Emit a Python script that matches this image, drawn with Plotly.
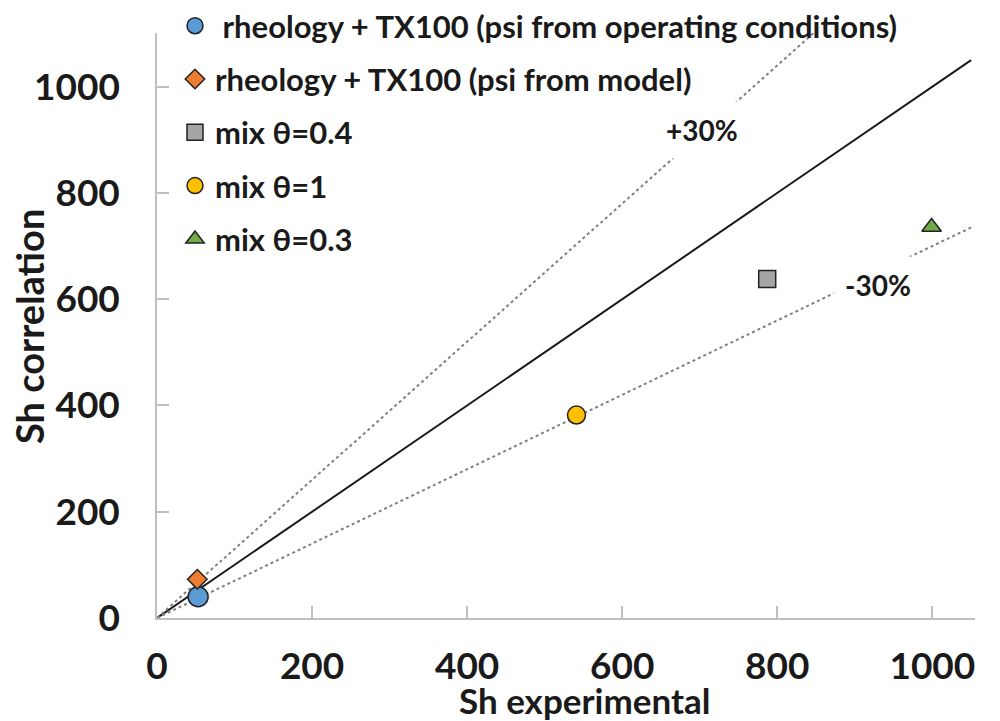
import plotly.graph_objects as go

# ---- data ----
series_names = [
    "\u00a0rheology + TX100 (psi from operating conditions)",
    "rheology + TX100 (psi from model)",
    "mix θ=0.4",
    "mix θ=1",
    "mix θ=0.3",
]
sh_exp = [53, 52, 787, 541, 999]
sh_corr = [40, 73, 638, 382, 736]
symbols = ["circle", "diamond", "square", "circle", "triangle-up"]
colors = ["#5B9BD5", "#ED7D31", "#A5A5A5", "#FFC000", "#70AD47"]
sizes = [20, 15, 17, 18, 17]

ref_x = [0, 1050]
band_ratio = {"+30%": 1.3, "-30%": 0.7}
label_pos = {"+30%": (703, 919), "-30%": (930, 627)}
x_ticks = [0, 200, 400, 600, 800, 1000]
y_ticks = [0, 200, 400, 600, 800, 1000]

FONT = "Lato"
TXT = "#1a1a1a"
PL, PR, PT, PB, W, H = 157, 25, 33, 103, 1000, 721
pw, ph = W - PL - PR, H - PT - PB

fig = go.Figure()

# 1:1 line
fig.add_trace(go.Scatter(x=ref_x, y=ref_x, mode="lines",
                         line=dict(color="#1a1a1a", width=2), showlegend=False,
                         hoverinfo="skip"))
# +/-30% lines
for name, r in band_ratio.items():
    fig.add_trace(go.Scatter(x=ref_x, y=[v * r for v in ref_x], mode="lines",
                             line=dict(color="#808080", width=2, dash="dot"),
                             showlegend=False, hoverinfo="skip"))

for i, nm in enumerate(series_names):
    fig.add_trace(go.Scatter(
        x=[sh_exp[i]], y=[sh_corr[i]], mode="markers", name=nm,
        legendgroup=f"g{i}",
        marker=dict(symbol=symbols[i], color=colors[i], size=sizes[i],
                    line=dict(color="#222222", width=1.5)),
        cliponaxis=False,
    ))

for txt, (lx, ly) in label_pos.items():
    fig.add_annotation(x=lx, y=ly, text=f"<b>{txt}</b>", showarrow=False,
                       font=dict(family=FONT, size=28, color=TXT),
                       bgcolor="white", borderpad=11)

# axis titles (placed in paper coordinates)
fig.add_annotation(x=(584 - PL) / pw, y=(H - PB - 700) / ph,
                   xref="paper", yref="paper", xanchor="center", yanchor="middle",
                   text="<b>Sh experimental</b>", showarrow=False,
                   font=dict(family=FONT, size=35, color=TXT))
fig.add_annotation(x=(29 - PL) / pw, y=(H - PB - 327) / ph,
                   xref="paper", yref="paper", xanchor="center", yanchor="middle",
                   text="<b>Sh correlation</b>", textangle=-90, showarrow=False,
                   font=dict(family=FONT, size=38, color=TXT))

axis_common = dict(
    showgrid=False, zeroline=False, showline=True, linecolor="#bfbfbf",
    linewidth=1.5, ticks="inside", ticklen=12, tickcolor="#bfbfbf",
    tickwidth=1.5, tickfont=dict(family=FONT, size=37, color=TXT),
)

fig.update_xaxes(range=[0, 1055], tickvals=x_ticks,
                 ticktext=[f"<b>{v}</b>" for v in x_ticks],
                 ticklabelstandoff=15, **axis_common)
fig.update_yaxes(range=[0, 1101], tickvals=y_ticks,
                 ticktext=[f"<b>{v}</b>" for v in y_ticks],
                 ticklabelstandoff=28, **axis_common)

fig.update_layout(
    width=W, height=H,
    margin=dict(l=PL, r=PR, t=PT, b=PB, autoexpand=False),
    plot_bgcolor="white", paper_bgcolor="white",
    font=dict(family=FONT, color=TXT),
    showlegend=True,
    legend=dict(x=0.022, y=1.058, xanchor="left", yanchor="top",
                bgcolor="rgba(0,0,0,0)", traceorder="grouped",
                tracegroupgap=10,
                font=dict(family=FONT, size=31, color=TXT, weight="bold")),
)

fig.write_html("out.html")
